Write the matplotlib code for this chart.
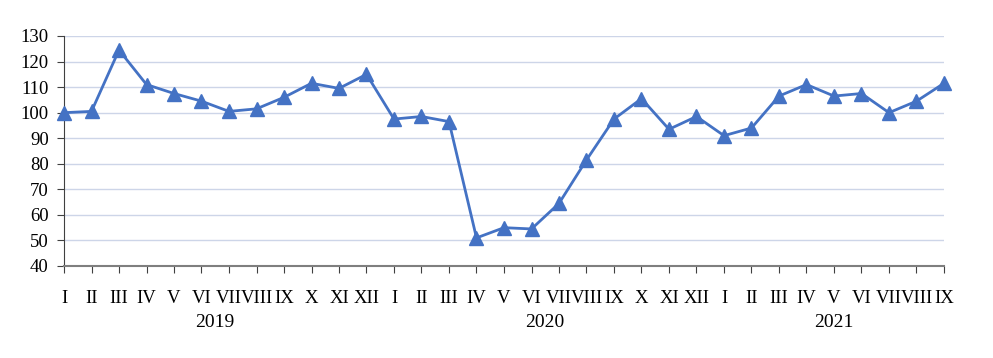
import matplotlib.pyplot as plt

months_2019 = ['I', 'II', 'III', 'IV', 'V', 'VI', 'VII', 'VIII', 'IX', 'X', 'XI', 'XII']
months_2020 = ['I', 'II', 'III', 'IV', 'V', 'VI', 'VII', 'VIII', 'IX', 'X', 'XI', 'XII']
months_2021 = ['I', 'II', 'III', 'IV', 'V', 'VI', 'VII', 'VIII', 'IX']
years = ['2019', '2020', '2021']

vals_2019 = [100, 100.5, 124.5, 111, 107.5, 104.5, 100.5, 101.5, 106, 111.5, 109.5, 115]
vals_2020 = [97.5, 98.5, 96.5, 51, 55, 54.5, 64.5, 81.5, 97.5, 105.5, 93.5, 98.5]
vals_2021 = [91, 94, 106.5, 111, 106.5, 107.5, 100, 104.5, 111.5]

labels = months_2019 + months_2020 + months_2021
values = vals_2019 + vals_2020 + vals_2021
x = list(range(len(values)))

plt.rcParams['font.family'] = ['Liberation Serif', 'DejaVu Serif']

fig = plt.figure(figsize=(9.93, 3.58), dpi=100)
ax = fig.add_axes([64 / 993, 1 - 266 / 358, (944 - 64) / 993, (266 - 36) / 358])

ax.plot(x, values, color='#4472C4', lw=2, marker='^', ms=10,
        markerfacecolor='#4472C4', markeredgecolor='#4472C4', clip_on=False, zorder=3)

ax.set_xlim(0, len(values) - 1)
ax.set_ylim(40, 130)
ax.set_yticks(range(40, 131, 10))
ax.set_xticks(x)
ax.set_xticklabels(labels)
ax.yaxis.grid(True, color='#CDD5E8', lw=1)
ax.set_axisbelow(True)

for s in ['top', 'right']:
    ax.spines[s].set_visible(False)
ax.spines['left'].set_color('#404040')
ax.spines['bottom'].set_color('#7F7F7F')
ax.spines['bottom'].set_linewidth(1.5)
ax.tick_params(axis='y', length=5, color='#404040', labelsize=13.5, pad=6)
ax.tick_params(axis='x', length=5, color='#404040', labelsize=13.5, pad=12)

# year labels centred under each group of months
starts = [0, len(vals_2019), len(vals_2019) + len(vals_2020)]
ends = [len(vals_2019) - 1, len(vals_2019) + len(vals_2020) - 1, len(values) - 1]
for yr, a, b in zip(years, starts, ends):
    ax.text((a + b) / 2, -0.245, yr, transform=ax.get_xaxis_transform(),
            ha='center', va='center', fontsize=14)

fig.savefig('out.png', dpi=100)
